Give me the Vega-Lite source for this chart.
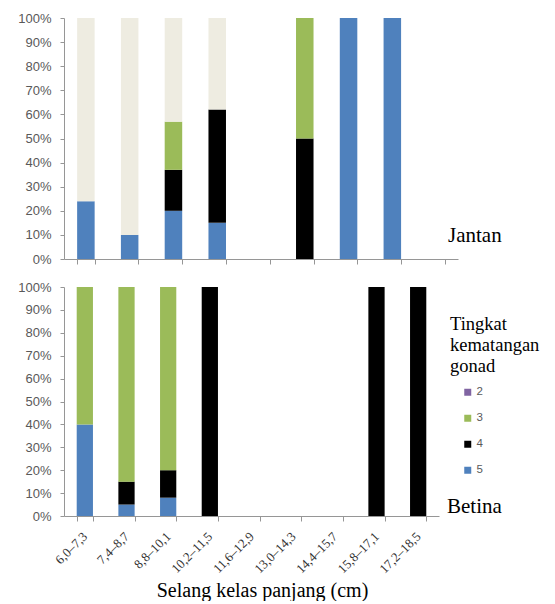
{
  "$schema": "https://vega.github.io/schema/vega-lite/v6.json",
  "padding": {"left": 17, "top": 12, "right": 5, "bottom": 0},
  "config": {
    "view": {"stroke": null},
    "axis": {
      "domainColor": "#969696",
      "tickColor": "#969696",
      "labelColor": "#595959",
      "labelFont": "Liberation Sans",
      "labelFontSize": 13,
      "grid": false
    },
    "title": {"font": "Liberation Serif", "fontSize": 21, "fontWeight": "normal", "color": "#000000"}
  },
  "datasets": {
    "jantan": [
      {"kelas": "6,0–7,3", "tkg": 5, "persen": 24},
      {"kelas": "6,0–7,3", "tkg": 1, "persen": 76},
      {"kelas": "7,4–8,7", "tkg": 5, "persen": 10},
      {"kelas": "7,4–8,7", "tkg": 1, "persen": 90},
      {"kelas": "8,8–10,1", "tkg": 5, "persen": 20},
      {"kelas": "8,8–10,1", "tkg": 4, "persen": 17},
      {"kelas": "8,8–10,1", "tkg": 3, "persen": 20},
      {"kelas": "8,8–10,1", "tkg": 1, "persen": 43},
      {"kelas": "10,2–11,5", "tkg": 5, "persen": 15},
      {"kelas": "10,2–11,5", "tkg": 4, "persen": 47},
      {"kelas": "10,2–11,5", "tkg": 1, "persen": 38},
      {"kelas": "13,0–14,3", "tkg": 4, "persen": 50},
      {"kelas": "13,0–14,3", "tkg": 3, "persen": 50},
      {"kelas": "14,4–15,7", "tkg": 5, "persen": 100},
      {"kelas": "15,8–17,1", "tkg": 5, "persen": 100}
    ],
    "betina": [
      {"kelas": "6,0–7,3", "tkg": 5, "persen": 40},
      {"kelas": "6,0–7,3", "tkg": 3, "persen": 60},
      {"kelas": "7,4–8,7", "tkg": 5, "persen": 5},
      {"kelas": "7,4–8,7", "tkg": 4, "persen": 10},
      {"kelas": "7,4–8,7", "tkg": 3, "persen": 85},
      {"kelas": "8,8–10,1", "tkg": 5, "persen": 8},
      {"kelas": "8,8–10,1", "tkg": 4, "persen": 12},
      {"kelas": "8,8–10,1", "tkg": 3, "persen": 80},
      {"kelas": "10,2–11,5", "tkg": 4, "persen": 100},
      {"kelas": "15,8–17,1", "tkg": 4, "persen": 100},
      {"kelas": "17,2–18,5", "tkg": 4, "persen": 100}
    ]
  },
  "bounds": "flush",
  "spacing": 28,
  "resolve": {"legend": {"color": "independent"}},
  "vconcat": [
    {
      "width": 394,
      "height": 241,
      "data": {"name": "jantan"},
      "title": {
        "text": "Jantan",
        "orient": "bottom",
        "anchor": "end",
        "frame": "group",
        "align": "left",
        "baseline": "alphabetic",
        "offset": 0,
        "dx": -10,
        "dy": -24
      },
      "mark": {"type": "bar"},
      "encoding": {
        "x": {
          "field": "kelas",
          "type": "nominal",
          "scale": {
            "domain": ["6,0–7,3", "7,4–8,7", "8,8–10,1", "10,2–11,5", "11,6–12,9", "13,0–14,3", "14,4–15,7", "15,8–17,1", "17,2–18,5"],
            "paddingInner": 0.6,
            "paddingOuter": 0.3
          },
          "axis": {"title": null, "labels": false, "tickBand": "extent", "tickSize": 5}
        },
        "y": {
          "field": "persen",
          "type": "quantitative",
          "stack": "zero",
          "scale": {"domain": [0, 100]},
          "axis": {
            "title": null,
            "values": [0, 10, 20, 30, 40, 50, 60, 70, 80, 90, 100],
            "labelExpr": "datum.value + '%'",
            "tickSize": 4,
            "labelPadding": 9
          }
        },
        "color": {
          "field": "tkg",
          "type": "nominal",
          "scale": {"domain": [1, 2, 3, 4, 5], "range": ["#EEECE1", "#8064A2", "#9BBB59", "#000000", "#4F81BD"]},
          "legend": null
        },
        "order": {"field": "tkg", "sort": "descending"}
      }
    },
    {
      "width": 375,
      "height": 229,
      "data": {"name": "betina"},
      "title": {
        "text": "Betina",
        "orient": "top",
        "anchor": "end",
        "frame": "group",
        "align": "left",
        "baseline": "alphabetic",
        "offset": 0,
        "dx": 8,
        "dy": 253
      },
      "mark": {"type": "bar"},
      "encoding": {
        "x": {
          "field": "kelas",
          "type": "nominal",
          "scale": {
            "domain": ["6,0–7,3", "7,4–8,7", "8,8–10,1", "10,2–11,5", "11,6–12,9", "13,0–14,3", "14,4–15,7", "15,8–17,1", "17,2–18,5"],
            "paddingInner": 0.61,
            "paddingOuter": 0.305
          },
          "axis": {
            "title": "Selang kelas panjang (cm)",
            "titleFont": "Liberation Serif",
            "titleFontSize": 20,
            "titleFontWeight": "normal",
            "titleColor": "#000000",
            "titlePadding": 5,
            "titleX": 198,
            "tickBand": "extent",
            "tickSize": 5,
            "labelAngle": -45,
            "labelAlign": "right",
            "labelBaseline": "middle",
            "labelFont": "Liberation Serif",
            "labelFontSize": 13,
            "labelColor": "#333333",
            "labelPadding": 13
          }
        },
        "y": {
          "field": "persen",
          "type": "quantitative",
          "stack": "zero",
          "scale": {"domain": [0, 100]},
          "axis": {
            "title": null,
            "values": [0, 10, 20, 30, 40, 50, 60, 70, 80, 90, 100],
            "labelExpr": "datum.value + '%'",
            "tickSize": 4,
            "labelPadding": 9
          }
        },
        "color": {
          "field": "tkg",
          "type": "nominal",
          "scale": {"domain": [1, 2, 3, 4, 5], "range": ["#EEECE1", "#8064A2", "#9BBB59", "#000000", "#4F81BD"]},
          "legend": {
            "values": [2, 3, 4, 5],
            "title": ["Tingkat", "kematangan", "gonad"],
            "titleFont": "Liberation Serif",
            "titleFontSize": 18.5,
            "titleFontWeight": "normal",
            "titleColor": "#000000",
            "titleLineHeight": 21,
            "titlePadding": 11,
            "orient": "none",
            "legendX": 386,
            "legendY": 28,
            "padding": 0,
            "symbolType": "square",
            "symbolSize": 49,
            "symbolStrokeWidth": 0,
            "symbolOffset": 12,
            "labelOffset": 3,
            "labelFont": "Liberation Sans",
            "labelFontSize": 11.5,
            "labelColor": "#595959",
            "rowPadding": 13
          }
        },
        "order": {"field": "tkg", "sort": "descending"}
      }
    }
  ]
}
